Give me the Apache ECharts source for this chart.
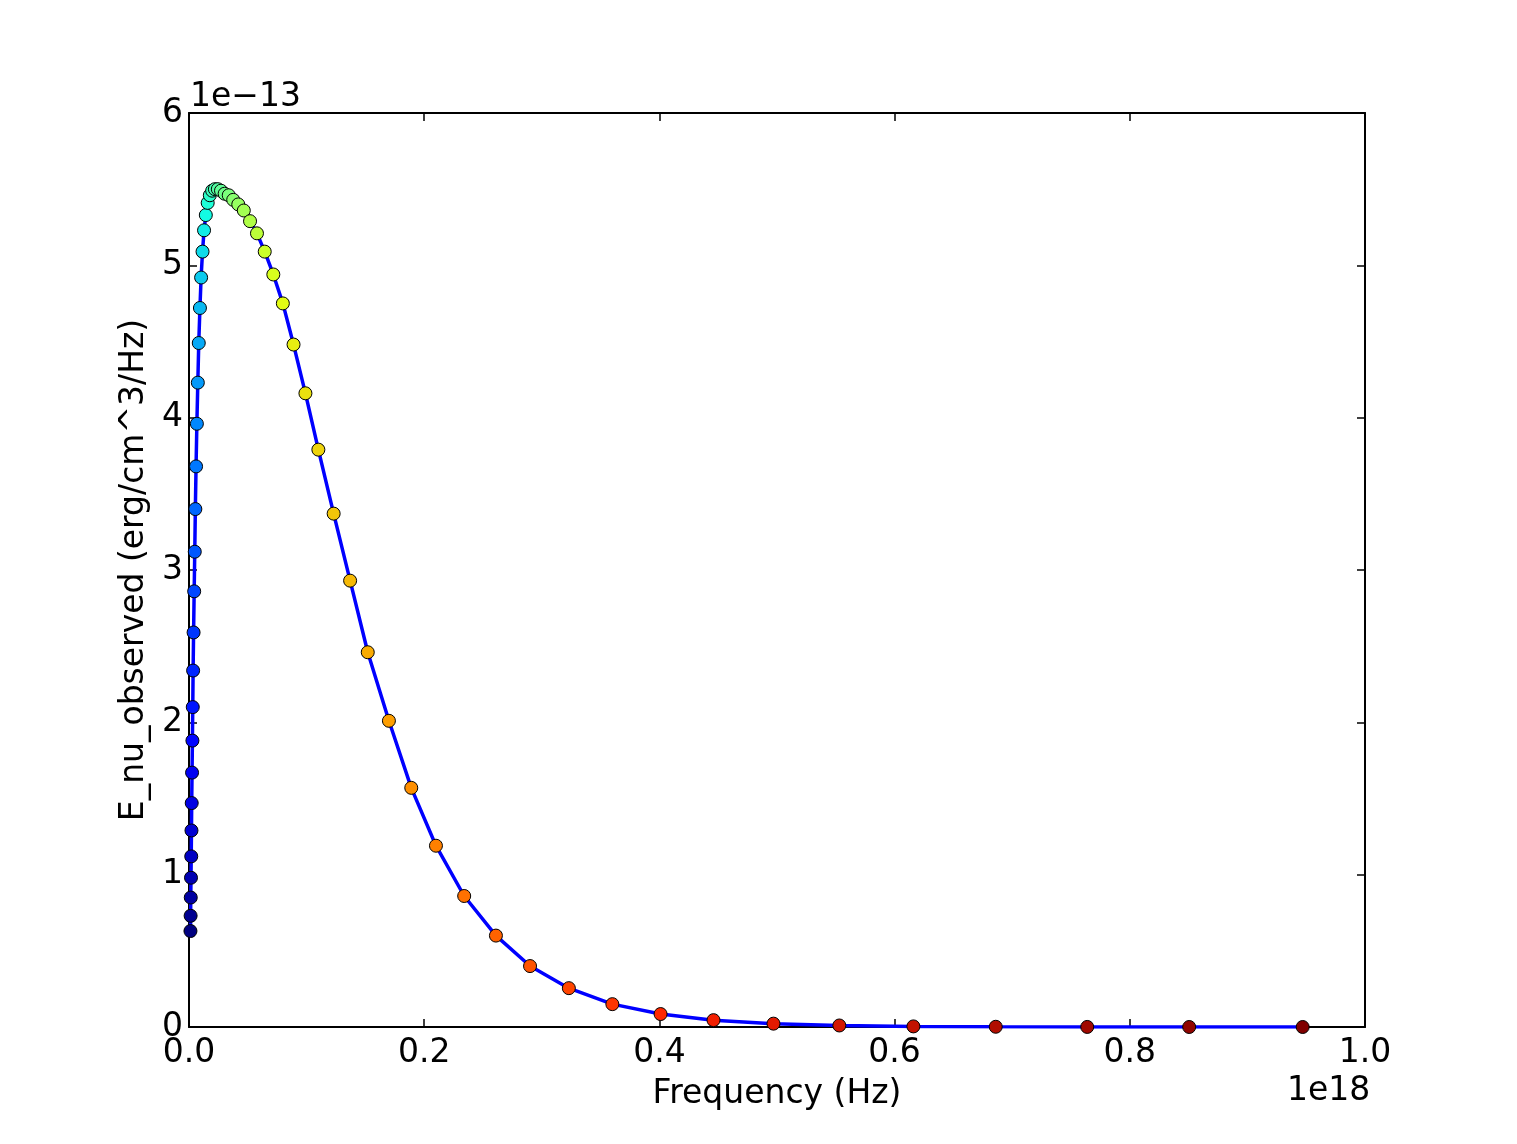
<!DOCTYPE html>
<html>
<head>
<meta charset="utf-8">
<style>
  html, body { margin: 0; padding: 0; background: #fff; }
  #main { width: 1517px; height: 1144px; }
</style>
<script src="https://cdn.jsdelivr.net/npm/echarts@6/dist/echarts.min.js"></script>
</head>
<body>
<div id="main"></div>
<script>
// frequency in units of 1e18 Hz
var freq = [0.00123, 0.00137, 0.0015, 0.0017, 0.0019, 0.0021, 0.0023, 0.0026, 0.0029, 0.0032,
            0.0035, 0.0039, 0.0044, 0.0049, 0.0054, 0.0060, 0.0067, 0.0075, 0.0083, 0.0093,
            0.0103, 0.0115, 0.0128, 0.0143, 0.0159, 0.0177, 0.0197, 0.0220, 0.0245, 0.0272,
            0.0303, 0.0338, 0.0376, 0.0419, 0.0466, 0.0519, 0.0578, 0.0644, 0.0717, 0.0798,
            0.0889, 0.0990, 0.110, 0.123, 0.137, 0.152, 0.170, 0.189, 0.210, 0.234,
            0.261, 0.290, 0.323, 0.360, 0.401, 0.446, 0.497, 0.553, 0.616, 0.686,
            0.7638, 0.8505, 0.947];
// E_nu_observed in units of 1e-13
var energy = [0.63, 0.73, 0.85, 0.98, 1.12, 1.29, 1.47, 1.67, 1.88, 2.10,
              2.34, 2.59, 2.86, 3.12, 3.40, 3.68, 3.96, 4.23, 4.49, 4.72,
              4.92, 5.09, 5.23, 5.33, 5.41, 5.46, 5.49, 5.50, 5.50, 5.49,
              5.47, 5.46, 5.43, 5.40, 5.36, 5.29, 5.21, 5.09, 4.94, 4.75,
              4.48, 4.16, 3.79, 3.37, 2.93, 2.46, 2.01, 1.57, 1.19, 0.86,
              0.60, 0.40, 0.255, 0.15, 0.085, 0.045, 0.022, 0.010, 0.004, 0.0015,
              0.0005, 0.0001, 0.00003];
// jet colour map
var jet = ['#000080', '#0000ff', '#0080ff', '#14ffe2', '#7bff7b', '#e2ff14', '#ff9700', '#ff2200', '#800000'];

var font = 'DejaVu Sans';
var pts = [];
for (var i = 0; i < freq.length; i++) {
    pts.push([freq[i], energy[i], i]);
}

var myChart = echarts.init(document.getElementById('main'));

var tickStyle = { inside: true, length: 8, lineStyle: { color: '#000', width: 1.5 } };
var lineStyle = { show: true, onZero: false, lineStyle: { color: '#000', width: 2 } };

var option = {
    backgroundColor: '#fff',
    animation: false,
    grid: { left: 189, top: 113, width: 1176, height: 914 },
    xAxis: [
        {
            type: 'value', min: 0, max: 1, interval: 0.2,
            name: 'Frequency (Hz)', nameLocation: 'middle', nameGap: 51,
            nameTextStyle: { fontFamily: font, fontSize: 33, color: '#000' },
            axisLine: lineStyle, axisTick: tickStyle, splitLine: { show: false },
            axisLabel: { fontFamily: font, fontSize: 33, color: '#000', margin: 10,
                formatter: function (v) { return v.toFixed(1); } }
        },
        {
            type: 'value', min: 0, max: 1, interval: 0.2, position: 'top',
            axisLine: lineStyle, axisTick: tickStyle, splitLine: { show: false },
            axisLabel: { show: false }
        }
    ],
    yAxis: [
        {
            type: 'value', min: 0, max: 6, interval: 1,
            name: 'E_nu_observed (erg/cm^3/Hz)', nameLocation: 'middle', nameGap: 38,
            nameTextStyle: { fontFamily: font, fontSize: 33, color: '#000' },
            axisLine: lineStyle, axisTick: tickStyle, splitLine: { show: false },
            axisLabel: { fontFamily: font, fontSize: 33, color: '#000', margin: 6 }
        },
        {
            type: 'value', min: 0, max: 6, interval: 1, position: 'right',
            axisLine: lineStyle, axisTick: tickStyle, splitLine: { show: false },
            axisLabel: { show: false }
        }
    ],
    visualMap: {
        show: false, type: 'continuous', seriesIndex: 1, dimension: 2,
        min: 0, max: freq.length - 1,
        inRange: { color: jet }
    },
    graphic: [
        { type: 'text', left: 190, top: 81,
          style: { text: '1e\u221213', font: '33px "DejaVu Sans"', fill: '#000' } },
        { type: 'text', left: 1287, top: 1075,
          style: { text: '1e18', font: '33px "DejaVu Sans"', fill: '#000' } }
    ],
    series: [
        {
            type: 'line', data: pts, showSymbol: false, smooth: false,
            lineStyle: { color: '#0000ff', width: 3.5 }, z: 2
        },
        {
            type: 'scatter', data: pts, symbolSize: 13,
            itemStyle: { borderColor: '#000', borderWidth: 1, opacity: 1 }, z: 3
        }
    ]
};

myChart.setOption(option);
</script>
</body>
</html>
